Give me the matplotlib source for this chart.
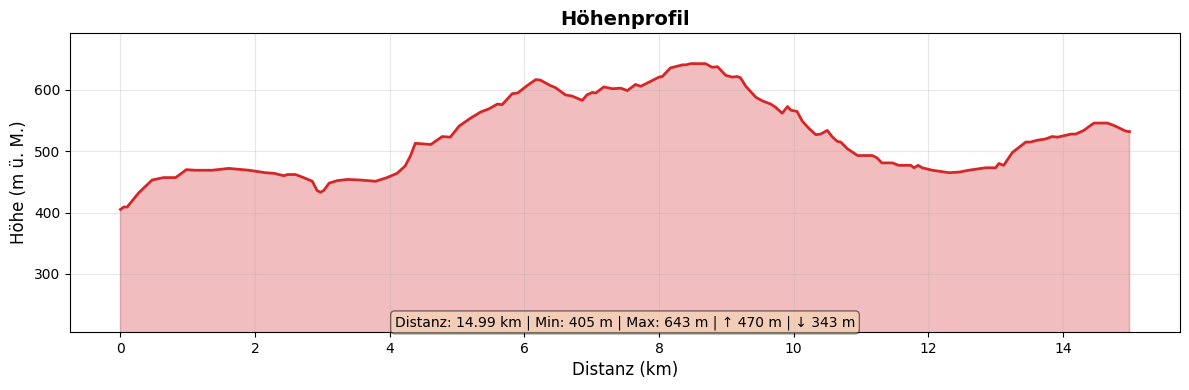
import matplotlib
matplotlib.use("Agg")
import matplotlib.pyplot as plt
import numpy as np

distance_km = [0.00, 0.05, 0.10, 0.27, 0.47, 0.64, 0.82, 0.98, 1.11, 1.36, 1.61, 1.91, 2.15,
               2.28, 2.43, 2.48, 2.60, 2.72, 2.85, 2.92, 2.97, 3.02, 3.10, 3.22, 3.37, 3.57,
               3.79, 3.96, 4.11, 4.23, 4.31, 4.38, 4.61, 4.78, 4.90, 5.03, 5.20, 5.35, 5.47,
               5.60, 5.67, 5.82, 5.90, 6.04, 6.17, 6.24, 6.39, 6.46, 6.61, 6.71, 6.86, 6.93,
               7.01, 7.06, 7.18, 7.31, 7.43, 7.53, 7.65, 7.73, 8.00, 8.05, 8.17, 8.35, 8.40,
               8.47, 8.69, 8.79, 8.87, 8.99, 9.09, 9.16, 9.21, 9.29, 9.44, 9.54, 9.66, 9.73,
               9.83, 9.91, 9.96, 10.05, 10.13, 10.23, 10.33, 10.40, 10.50, 10.57, 10.65, 10.70,
               10.80, 10.95, 11.07, 11.17, 11.24, 11.31, 11.47, 11.56, 11.74, 11.79, 11.85,
               11.91, 12.06, 12.31, 12.46, 12.60, 12.85, 13.00, 13.05, 13.12, 13.25, 13.32,
               13.45, 13.52, 13.62, 13.74, 13.84, 13.92, 14.12, 14.19, 14.31, 14.46, 14.66,
               14.76, 14.93, 14.99]
elevation_m = [405, 409, 409, 432, 453, 457, 457, 470, 469, 469, 472, 469, 465,
               464, 460, 462, 462, 457, 451, 436, 433, 436, 448, 452, 454, 453,
               451, 457, 464, 476, 493, 513, 511, 524, 523, 541, 554, 564, 569,
               577, 576, 594, 595, 607, 617, 616, 607, 604, 592, 590, 583, 592,
               596, 595, 605, 602, 603, 599, 609, 606, 621, 622, 636, 641, 641,
               643, 643, 637, 638, 624, 621, 622, 620, 606, 588, 582, 577, 572,
               562, 573, 567, 565, 549, 537, 527, 528, 534, 524, 516, 515,
               504, 493, 493, 493, 489, 481, 481, 477, 477, 473, 477,
               473, 469, 465, 466, 469, 473, 473, 480, 477, 498, 504,
               515, 515, 518, 520, 524, 523, 528, 528, 534, 546, 546,
               542, 533, 532]

title = "Höhenprofil"
xlabel = "Distanz (km)"
ylabel = "Höhe (m ü. M.)"
stats_text = "Distanz: 14.99 km | Min: 405 m | Max: 643 m | \u2191 470 m | \u2193 343 m"

x = np.array(distance_km)
y = np.array(elevation_m)

fig, ax = plt.subplots(figsize=(11.89, 3.9), dpi=100)
ax.fill_between(x, y, 0, color="#d62728", alpha=0.3)
ax.plot(x, y, color="#d62728", linewidth=2)
ax.set_ylim(y.min() - 200, y.max() + 50)
ax.set_title(title, fontsize=14, fontweight="bold")
ax.set_xlabel(xlabel, fontsize=12)
ax.set_ylabel(ylabel, fontsize=12)
ax.grid(True, alpha=0.3)
ax.text(0.5, 0.008, stats_text, transform=ax.transAxes, ha="center", va="bottom",
        fontsize=10, bbox=dict(boxstyle="round", facecolor="wheat", alpha=0.5))
fig.subplots_adjust(left=70/1189, right=1180/1189, top=1-33/390, bottom=1-332/390)
fig.savefig("out.png", dpi=100)
